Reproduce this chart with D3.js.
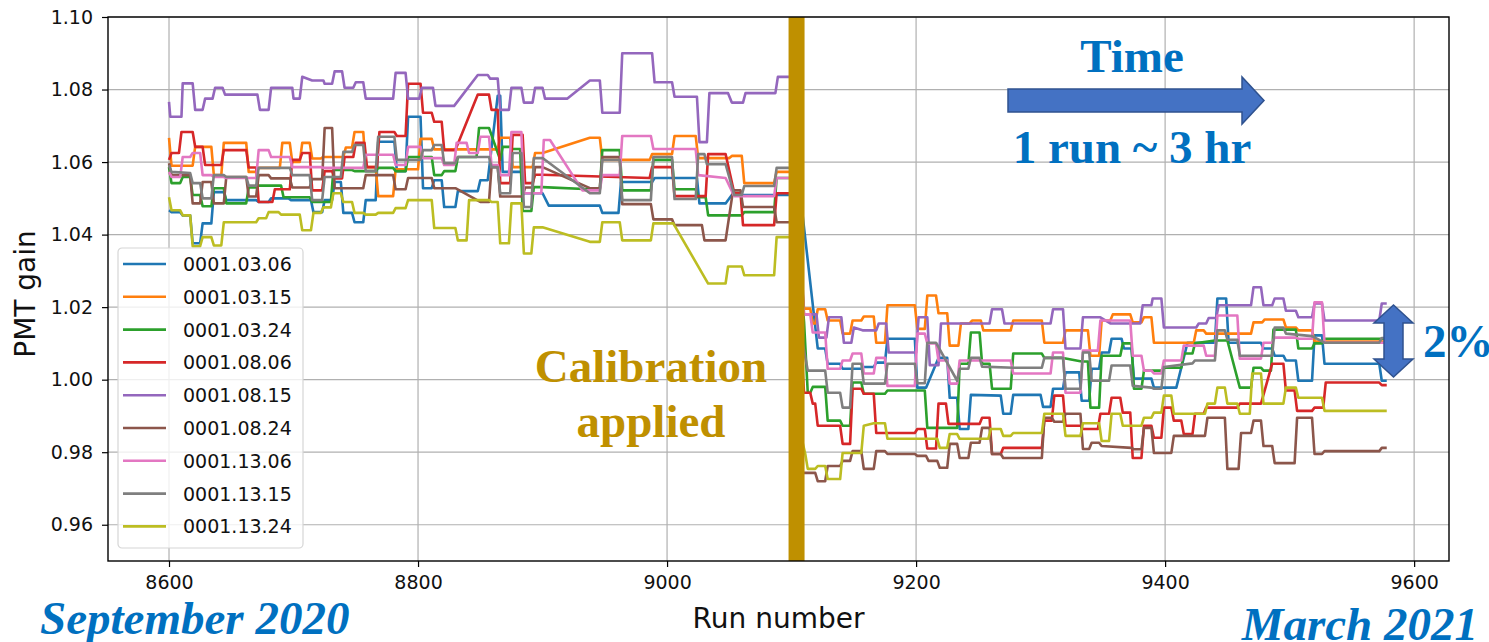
<!DOCTYPE html>
<html>
<head>
<meta charset="utf-8">
<script src="https://cdn.jsdelivr.net/npm/d3@7"></script>
<style>
    html, body { margin: 0; padding: 0; background: #ffffff; }
    svg { display: block; }
</style>
</head>
<body>
<div id="chart"></div>
<script>
// ---- data: [run number, PMT gain] samples ----
var runTicks = [8600, 8800, 9000, 9200, 9400, 9600];
var gainTicks = [0.96, 0.98, 1.00, 1.02, 1.04, 1.06, 1.08, 1.10];
var pmtNames = ['0001.03.06', '0001.03.15', '0001.03.24', '0001.08.06', '0001.08.15',
    '0001.08.24', '0001.13.06', '0001.13.15', '0001.13.24'];
var calibrationRun = 9104;

var pmt0306 = [[8600,1.0467],[8602,1.0462],[8609,1.0462],[8611,1.0453],[8617,1.0453],[8619,1.0376],[8625,1.0376],[8627,1.0431],[8634,1.0431],[8636,1.0517],[8644,1.0517],[8646,1.0495],[8670,1.0495],[8672,1.049],[8680,1.049],[8682,1.05],[8696,1.05],[8698,1.0495],[8714,1.0495],[8716,1.0462],[8723,1.0462],[8725,1.0495],[8731,1.0495],[8733,1.0545],[8738,1.0545],[8740,1.046],[8747,1.046],[8749,1.0434],[8756,1.0434],[8758,1.0495],[8766,1.0495],[8768,1.0656],[8781,1.0656],[8783,1.0575],[8790,1.0575],[8792,1.0725],[8802,1.0725],[8804,1.0528],[8811,1.0528],[8813,1.055],[8819,1.055],[8821,1.0476],[8830,1.0476],[8832,1.052],[8848,1.052],[8850,1.055],[8856,1.055],[8864,1.0783],[8866,1.0783],[8868,1.0573],[8883,1.0573],[8885,1.0514],[8900,1.0514],[8905,1.048],[8946,1.048],[8948,1.046],[8961,1.046],[8963,1.0545],[8988,1.0545],[8990,1.0556],[9024,1.0556],[9026,1.0486],[9047,1.0486],[9052,1.0509],[9100,1.0509],
    [9108,1.048],[9121,1.0086],[9127,1.0086],[9129,1.0044],[9139,1.0044],[9141,1.003],[9156,1.003],[9158,1.0035],[9166,1.0035],[9168,1.0047],[9175,1.0047],[9177,1.0113],[9199,1.0113],[9201,0.9978],[9208,0.9978],[9218,1.006],[9225,1.006],[9227,0.995],[9233,0.995],[9235,0.9864],[9242,0.9864],[9244,0.9958],[9268,0.9956],[9270,0.9906],[9276,0.9906],[9278,0.9958],[9300,0.9958],[9302,0.9925],[9308,0.9925],[9310,0.9975],[9318,0.9975],[9320,1.002],[9331,1.002],[9333,0.9942],[9339,0.9942],[9341,1.003],[9347,1.003],[9349,1.0075],[9355,1.0075],[9357,1.0113],[9365,1.0113],[9367,1.0086],[9373,1.0086],[9375,1.0003],[9389,1.0003],[9391,0.9978],[9409,0.9978],[9418,1.0102],[9440,1.0102],[9442,1.0224],[9449,1.0224],[9451,1.0102],[9477,1.0102],[9479,1.0086],[9486,1.0086],[9488,1.0066],[9495,1.0066],[9497,1.0053],[9505,1.0053],[9507,0.9997],[9518,0.9997],[9520,1.0122],[9526,1.0122],[9528,1.0044],[9572,1.0044],[9574,0.9997],[9578,0.9997]];

var pmt0315 = [[8600,1.0667],[8602,1.059],[8619,1.059],[8621,1.0642],[8634,1.0642],[8636,1.0564],[8642,1.0564],[8644,1.0653],[8662,1.0653],[8664,1.0573],[8670,1.0573],[8672,1.0584],[8689,1.0584],[8691,1.0653],[8697,1.0653],[8699,1.06],[8705,1.06],[8707,1.0653],[8713,1.0653],[8715,1.061],[8722,1.061],[8724,1.0614],[8740,1.0614],[8742,1.064],[8747,1.064],[8749,1.0683],[8756,1.0683],[8758,1.0586],[8766,1.0586],[8768,1.0506],[8780,1.0506],[8782,1.058],[8800,1.058],[8802,1.0664],[8811,1.0664],[8813,1.0635],[8864,1.0635],[8866,1.0667],[8874,1.0667],[8876,1.0586],[8892,1.0586],[8894,1.0625],[8900,1.0625],[8938,1.0667],[8946,1.0667],[8948,1.0606],[8986,1.0606],[8988,1.0622],[9004,1.0622],[9006,1.0672],[9023,1.0672],[9025,1.0611],[9050,1.0611],[9052,1.0617],[9060,1.0617],[9062,1.0542],[9086,1.0542],[9088,1.0573],[9100,1.0573],
    [9110,1.0196],[9115,1.0196],[9117,1.0155],[9119,1.0155],[9121,1.0194],[9127,1.0194],[9129,1.0163],[9139,1.0163],[9141,1.0127],[9147,1.0127],[9149,1.0163],[9156,1.0163],[9158,1.0174],[9166,1.0174],[9168,1.0102],[9175,1.0102],[9177,1.0205],[9199,1.0205],[9201,1.014],[9207,1.014],[9209,1.0232],[9216,1.0232],[9218,1.0183],[9225,1.0183],[9227,1.0094],[9234,1.0094],[9236,1.0155],[9243,1.0155],[9245,1.0163],[9252,1.0163],[9254,1.0136],[9276,1.0136],[9278,1.0163],[9301,1.0163],[9303,1.0102],[9318,1.0102],[9320,1.0136],[9338,1.0136],[9340,1.0066],[9347,1.0066],[9349,1.0163],[9356,1.0163],[9358,1.018],[9372,1.018],[9374,1.0158],[9381,1.0158],[9383,1.0172],[9389,1.0172],[9391,1.0102],[9423,1.0102],[9425,1.0136],[9431,1.0136],[9433,1.0127],[9469,1.0127],[9471,1.0158],[9478,1.0158],[9480,1.0166],[9495,1.0166],[9497,1.0144],[9505,1.0144],[9507,1.0136],[9518,1.0136],[9520,1.0105],[9578,1.0105]];

var pmt0324 = [[8600,1.0586],[8602,1.0542],[8609,1.0542],[8611,1.0559],[8617,1.0559],[8619,1.0509],[8625,1.0509],[8627,1.0478],[8634,1.0478],[8636,1.0528],[8644,1.0528],[8646,1.0486],[8662,1.0486],[8664,1.053],[8670,1.053],[8672,1.0535],[8690,1.0535],[8692,1.0503],[8713,1.0503],[8715,1.049],[8730,1.049],[8732,1.0578],[8747,1.0578],[8749,1.0575],[8766,1.0575],[8768,1.0584],[8780,1.0584],[8782,1.0575],[8790,1.0575],[8792,1.0614],[8811,1.0614],[8813,1.0564],[8819,1.0564],[8821,1.0575],[8830,1.0575],[8832,1.0614],[8847,1.0614],[8849,1.0694],[8857,1.0694],[8866,1.0606],[8868,1.0642],[8874,1.0642],[8876,1.0636],[8882,1.0636],[8884,1.0465],[8891,1.0465],[8893,1.0531],[8900,1.0531],[8938,1.0525],[8946,1.0525],[8948,1.0633],[8962,1.0633],[8964,1.0522],[8987,1.0522],[8989,1.0606],[9004,1.0606],[9006,1.0525],[9023,1.0525],[9025,1.0503],[9031,1.0503],[9033,1.0453],[9060,1.0453],[9062,1.0462],[9086,1.0462],[9088,1.0556],[9100,1.0556],
    [9110,1.016],[9113,0.9964],[9115,0.9964],[9117,0.998],[9127,0.998],[9129,0.9887],[9139,0.9887],[9141,0.9873],[9147,0.9873],[9149,0.9992],[9156,0.9992],[9158,0.9961],[9175,0.9961],[9177,0.997],[9207,0.997],[9209,0.9867],[9233,0.9867],[9235,1.0044],[9242,1.0044],[9244,1.013],[9251,1.013],[9253,1.0044],[9259,1.0044],[9261,0.9975],[9276,0.9975],[9278,1.0072],[9301,1.0072],[9303,1.006],[9318,1.006],[9333,1.005],[9338,1.005],[9340,0.9923],[9347,0.9923],[9349,1.0066],[9364,1.0066],[9366,1.01],[9373,1.01],[9375,0.9975],[9381,0.9975],[9383,1.0025],[9397,1.0025],[9399,1.0033],[9413,1.0033],[9415,1.0072],[9422,1.0072],[9424,1.01],[9440,1.0108],[9450,1.0108],[9460,0.9978],[9469,0.9978],[9471,1.0033],[9477,1.0033],[9479,1.0025],[9485,1.0025],[9487,1.0138],[9505,1.0138],[9507,1.0086],[9518,1.0086],[9520,1.01],[9526,1.01],[9528,1.0113],[9578,1.0113]];

var pmt0806 = [[8600,1.0606],[8602,1.0625],[8608,1.0625],[8610,1.0683],[8619,1.0683],[8621,1.0642],[8627,1.0642],[8629,1.0592],[8642,1.0592],[8644,1.0633],[8662,1.0633],[8664,1.0585],[8670,1.0585],[8672,1.049],[8683,1.049],[8685,1.0525],[8697,1.0525],[8699,1.0606],[8705,1.0606],[8707,1.0625],[8713,1.0625],[8715,1.0522],[8723,1.0522],[8725,1.0575],[8731,1.0575],[8733,1.0555],[8739,1.0555],[8741,1.0614],[8748,1.0614],[8750,1.0653],[8757,1.0653],[8759,1.0586],[8767,1.0586],[8769,1.0683],[8781,1.0683],[8783,1.0672],[8790,1.0672],[8792,1.0816],[8802,1.0816],[8804,1.0736],[8811,1.0736],[8813,1.0711],[8819,1.0711],[8821,1.0633],[8830,1.0633],[8848,1.0786],[8857,1.0786],[8859,1.0744],[8864,1.0744],[8866,1.0542],[8874,1.0542],[8876,1.0675],[8884,1.0675],[8886,1.0542],[8892,1.0542],[8894,1.0565],[8900,1.0565],[8946,1.056],[8986,1.0556],[8988,1.0586],[9004,1.0586],[9006,1.0506],[9031,1.0506],[9033,1.0622],[9047,1.0622],[9054,1.0514],[9059,1.0514],[9061,1.0426],[9086,1.0426],[9088,1.0514],[9100,1.0514],
    [9110,0.9964],[9115,0.9964],[9117,0.9934],[9119,0.9934],[9121,0.9873],[9139,0.9873],[9141,0.9823],[9147,0.9823],[9149,0.9975],[9156,0.9975],[9158,0.9961],[9166,0.9961],[9168,0.9853],[9199,0.9853],[9201,0.9864],[9207,0.9864],[9209,0.981],[9216,0.981],[9218,0.9934],[9224,0.9934],[9226,0.9878],[9251,0.9878],[9253,0.9895],[9259,0.9895],[9261,0.9795],[9268,0.9795],[9270,0.9812],[9301,0.9812],[9303,0.9887],[9309,0.9887],[9311,0.9956],[9318,0.9956],[9320,0.9873],[9332,0.9873],[9334,0.9864],[9346,0.9864],[9348,0.9906],[9355,0.9906],[9357,0.995],[9364,0.995],[9366,0.9909],[9372,0.9909],[9374,0.9784],[9381,0.9784],[9383,0.9873],[9389,0.9873],[9391,0.984],[9397,0.984],[9399,0.9923],[9405,0.9923],[9407,0.9887],[9413,0.9887],[9415,0.985],[9422,0.985],[9424,0.9906],[9431,0.9906],[9433,0.9923],[9458,0.9923],[9460,0.9934],[9477,0.9934],[9486,1.0044],[9495,1.0044],[9497,0.997],[9504,0.997],[9506,0.9914],[9518,0.9914],[9520,0.9923],[9527,0.9923],[9529,0.9992],[9572,0.9992],[9574,0.9985],[9578,0.9985]];

var pmt0815 = [[8600,1.0766],[8601,1.0725],[8610,1.0725],[8611,1.0817],[8619,1.0817],[8621,1.0744],[8627,1.0744],[8629,1.0775],[8635,1.0775],[8637,1.0805],[8643,1.0805],[8645,1.0786],[8671,1.0786],[8673,1.0744],[8680,1.0744],[8682,1.0805],[8699,1.0805],[8700,1.0775],[8705,1.0775],[8707,1.0835],[8715,1.0825],[8724,1.0825],[8725,1.0816],[8731,1.0816],[8733,1.085],[8739,1.085],[8741,1.0805],[8748,1.0805],[8750,1.082],[8756,1.082],[8758,1.0775],[8780,1.0775],[8782,1.0846],[8790,1.0846],[8792,1.0775],[8801,1.0775],[8803,1.0805],[8812,1.0805],[8814,1.0755],[8829,1.0755],[8848,1.084],[8856,1.084],[8858,1.083],[8864,1.083],[8866,1.0744],[8873,1.0744],[8875,1.0805],[8883,1.0805],[8885,1.0764],[8892,1.0764],[8894,1.0805],[8900,1.0805],[8902,1.0775],[8920,1.0775],[8938,1.0825],[8946,1.0825],[8948,1.0736],[8962,1.0736],[8964,1.090],[8988,1.090],[8990,1.082],[9004,1.082],[9006,1.078],[9024,1.078],[9026,1.0655],[9032,1.0655],[9034,1.079],[9049,1.079],[9052,1.0764],[9061,1.0764],[9063,1.079],[9087,1.079],[9089,1.0835],[9100,1.0835],
    [9110,1.018],[9120,1.018],[9122,1.0116],[9128,1.0116],[9130,1.0172],[9140,1.0172],[9142,1.0102],[9148,1.0102],[9150,1.0144],[9157,1.0136],[9168,1.0136],[9170,1.0155],[9176,1.0155],[9178,1.0075],[9200,1.0075],[9202,1.0172],[9209,1.0172],[9211,1.004],[9218,1.004],[9220,1.0155],[9259,1.0155],[9261,1.0194],[9269,1.0194],[9271,1.0155],[9308,1.0155],[9310,1.0194],[9318,1.0194],[9320,1.0086],[9332,1.0086],[9334,1.0172],[9348,1.0172],[9356,1.0155],[9380,1.0155],[9382,1.0205],[9389,1.0205],[9390,1.0224],[9397,1.0224],[9399,1.0144],[9425,1.0144],[9427,1.0155],[9433,1.0155],[9435,1.017],[9441,1.017],[9443,1.0205],[9469,1.0205],[9471,1.0255],[9477,1.0255],[9479,1.0205],[9486,1.0205],[9488,1.0224],[9495,1.0224],[9497,1.019],[9505,1.019],[9507,1.0172],[9518,1.0172],[9520,1.021],[9526,1.021],[9528,1.0163],[9572,1.0163],[9574,1.021],[9578,1.021]];

var pmt0824 = [[8600,1.0597],[8602,1.0564],[8617,1.0564],[8619,1.0486],[8625,1.0486],[8627,1.0545],[8634,1.0545],[8636,1.0486],[8644,1.0486],[8646,1.0559],[8662,1.0559],[8664,1.0505],[8670,1.0505],[8672,1.0564],[8680,1.0564],[8682,1.0555],[8697,1.0555],[8699,1.053],[8713,1.053],[8715,1.0553],[8723,1.0553],[8725,1.0694],[8731,1.0694],[8733,1.0528],[8756,1.0528],[8758,1.0564],[8780,1.0564],[8782,1.0525],[8790,1.0525],[8792,1.0556],[8811,1.0556],[8813,1.0528],[8830,1.0528],[8850,1.049],[8857,1.049],[8859,1.0586],[8864,1.0586],[8866,1.0505],[8884,1.0505],[8886,1.053],[8892,1.053],[8894,1.0586],[8900,1.0586],[8938,1.0528],[8946,1.0528],[8948,1.0614],[8962,1.0614],[8964,1.0484],[8987,1.0484],[8989,1.0442],[9004,1.0442],[9006,1.0426],[9028,1.0426],[9030,1.0384],[9047,1.0384],[9053,1.0522],[9059,1.0522],[9061,1.0476],[9086,1.0476],[9088,1.0434],[9100,1.0434],
    [9108,0.9743],[9119,0.9743],[9121,0.972],[9127,0.972],[9129,0.9762],[9139,0.9762],[9141,0.9776],[9147,0.9776],[9149,0.9803],[9156,0.9803],[9158,0.9754],[9166,0.9754],[9168,0.9803],[9175,0.9803],[9177,0.9795],[9199,0.9795],[9201,0.979],[9208,0.979],[9210,0.9776],[9217,0.9776],[9219,0.9757],[9225,0.9757],[9227,0.9823],[9233,0.9823],[9235,0.9784],[9242,0.9784],[9244,0.9826],[9251,0.9826],[9253,0.9867],[9259,0.9867],[9261,0.9795],[9268,0.9795],[9270,0.9784],[9301,0.9784],[9303,0.9895],[9309,0.9895],[9311,0.9884],[9318,0.9884],[9320,0.9906],[9332,0.9906],[9334,0.9809],[9339,0.9809],[9341,0.9826],[9347,0.9826],[9349,0.9817],[9373,0.9812],[9375,0.9808],[9381,0.9808],[9383,0.9867],[9389,0.9867],[9391,0.9798],[9405,0.9798],[9407,0.9845],[9432,0.9845],[9434,0.9895],[9448,0.9895],[9450,0.9754],[9459,0.9754],[9461,0.9853],[9469,0.9853],[9471,0.9887],[9477,0.9887],[9479,0.9817],[9486,0.9817],[9488,0.977],[9504,0.977],[9506,0.9895],[9518,0.9895],[9520,0.9795],[9526,0.9795],[9528,0.9803],[9572,0.9803],[9574,0.9812],[9578,0.9812]];

var pmt1306 = [[8600,1.0573],[8602,1.0559],[8609,1.0559],[8611,1.0614],[8617,1.0614],[8619,1.0625],[8625,1.0625],[8627,1.0564],[8634,1.0564],[8636,1.0559],[8644,1.0559],[8646,1.0556],[8670,1.0556],[8672,1.0633],[8680,1.0633],[8682,1.0614],[8697,1.0614],[8699,1.0586],[8722,1.0586],[8724,1.0584],[8756,1.0584],[8758,1.062],[8780,1.062],[8782,1.0592],[8790,1.0592],[8792,1.0642],[8802,1.0642],[8804,1.0611],[8819,1.0611],[8821,1.0592],[8829,1.0592],[8831,1.0653],[8839,1.0653],[8841,1.0625],[8848,1.0625],[8850,1.067],[8857,1.067],[8859,1.0592],[8864,1.0592],[8866,1.0564],[8873,1.0564],[8875,1.0683],[8883,1.0683],[8885,1.0514],[8899,1.0514],[8901,1.0661],[8906,1.0661],[8932,1.0522],[8946,1.0522],[8948,1.0564],[8962,1.0564],[8964,1.0672],[8987,1.0672],[8989,1.0636],[9023,1.0636],[9025,1.0564],[9047,1.0556],[9054,1.0506],[9086,1.0506],[9088,1.0556],[9100,1.0556],
    [9110,1.018],[9115,1.018],[9117,1.013],[9127,1.013],[9129,1.003],[9139,1.003],[9141,1.0053],[9147,1.0053],[9149,1.0072],[9156,1.0072],[9158,1.0017],[9166,1.0017],[9168,1.006],[9175,1.006],[9177,0.9983],[9199,0.9983],[9201,1.0127],[9207,1.0127],[9209,1.01],[9216,1.01],[9218,1.0053],[9225,1.0053],[9227,0.9989],[9233,0.9989],[9235,1.0053],[9276,1.0053],[9278,1.0017],[9308,1.0017],[9310,1.0075],[9318,1.0075],[9320,0.9964],[9332,0.9964],[9334,1.008],[9346,1.008],[9348,1.0163],[9372,1.0163],[9374,1.0066],[9381,1.0066],[9383,1.0025],[9389,1.0025],[9391,1.0017],[9397,1.0017],[9399,1.0053],[9413,1.0053],[9415,1.0094],[9431,1.0094],[9433,1.0066],[9440,1.0066],[9442,1.0177],[9458,1.0177],[9460,1.0058],[9477,1.0058],[9479,1.0102],[9486,1.0102],[9488,1.0116],[9505,1.0116],[9507,1.0113],[9518,1.0113],[9520,1.0213],[9526,1.0213],[9528,1.0102],[9578,1.0102]];

var pmt1315 = [[8600,1.0592],[8602,1.0573],[8617,1.057],[8619,1.0542],[8625,1.0542],[8627,1.05],[8634,1.05],[8636,1.0564],[8644,1.0564],[8646,1.0559],[8662,1.0559],[8664,1.0535],[8670,1.0535],[8672,1.0584],[8697,1.0584],[8699,1.0564],[8713,1.0564],[8715,1.0495],[8723,1.0495],[8725,1.0559],[8738,1.0559],[8740,1.0628],[8747,1.0628],[8749,1.0647],[8756,1.0647],[8758,1.0575],[8766,1.0575],[8768,1.067],[8781,1.067],[8783,1.0606],[8802,1.0606],[8804,1.0633],[8811,1.0633],[8813,1.0647],[8819,1.0647],[8821,1.0597],[8830,1.0597],[8832,1.0614],[8857,1.0614],[8859,1.0586],[8864,1.0586],[8866,1.0514],[8874,1.0514],[8876,1.0625],[8883,1.0625],[8885,1.0476],[8891,1.0476],[8893,1.0611],[8900,1.0611],[8938,1.0514],[8946,1.0514],[8948,1.0606],[8962,1.0606],[8964,1.0495],[8987,1.0495],[8989,1.0614],[9004,1.0614],[9006,1.0498],[9023,1.0498],[9025,1.0622],[9030,1.0622],[9032,1.0594],[9047,1.0594],[9054,1.0509],[9060,1.0509],[9062,1.0534],[9086,1.0534],[9088,1.0584],[9100,1.0584],
    [9109,1.01],[9113,1.0025],[9127,1.0025],[9129,0.9964],[9139,0.9964],[9141,0.9923],[9147,0.9923],[9149,1.0044],[9156,1.0044],[9158,0.9989],[9175,0.9989],[9177,1.0044],[9199,1.0044],[9201,0.999],[9207,0.999],[9209,1.0102],[9216,1.0102],[9233,0.9997],[9235,1.003],[9242,1.003],[9244,1.006],[9251,1.006],[9253,1.0036],[9278,1.0033],[9301,1.0033],[9303,1.006],[9318,1.006],[9320,0.9975],[9332,0.9975],[9334,1.0075],[9339,1.0075],[9341,0.9997],[9355,0.9997],[9357,1.0039],[9372,1.0039],[9374,0.9983],[9389,0.9978],[9391,0.9975],[9397,0.9975],[9399,1.0035],[9422,1.0045],[9424,1.0053],[9440,1.0053],[9442,1.0136],[9448,1.0136],[9450,1.011],[9458,1.011],[9460,1.0066],[9486,1.0066],[9488,1.0144],[9495,1.0144],[9497,1.0127],[9518,1.012],[9528,1.0102],[9572,1.0102],[9574,1.0115],[9578,1.0115]];

var pmt1324 = [[8600,1.0503],[8602,1.0467],[8609,1.0467],[8611,1.0453],[8617,1.0453],[8619,1.0368],[8625,1.0368],[8627,1.0393],[8634,1.0393],[8636,1.037],[8642,1.037],[8644,1.0434],[8670,1.0434],[8672,1.0445],[8678,1.0445],[8680,1.0462],[8688,1.0462],[8690,1.0455],[8705,1.0455],[8707,1.0412],[8714,1.0412],[8716,1.046],[8722,1.046],[8724,1.0475],[8730,1.0475],[8732,1.0514],[8738,1.0514],[8740,1.049],[8747,1.049],[8749,1.046],[8756,1.046],[8758,1.0455],[8766,1.0455],[8768,1.046],[8780,1.046],[8782,1.0473],[8790,1.0473],[8792,1.0495],[8811,1.0495],[8813,1.0418],[8830,1.0418],[8832,1.0384],[8839,1.0384],[8841,1.0495],[8857,1.0495],[8859,1.049],[8864,1.049],[8866,1.0376],[8873,1.0376],[8875,1.0486],[8883,1.0486],[8885,1.0348],[8891,1.0348],[8893,1.042],[8900,1.042],[8938,1.038],[8946,1.038],[8948,1.0434],[8962,1.0434],[8964,1.0384],[8987,1.0384],[8989,1.0431],[9005,1.0431],[9033,1.0265],[9047,1.0265],[9049,1.0312],[9060,1.0312],[9062,1.0288],[9086,1.0288],[9088,1.0393],[9100,1.0393],
    [9108,0.984],[9111,0.9795],[9113,0.9754],[9119,0.9754],[9121,0.9762],[9127,0.9762],[9129,0.9726],[9139,0.9726],[9141,0.9798],[9156,0.9798],[9158,0.9873],[9166,0.988],[9175,0.988],[9177,0.9837],[9217,0.9837],[9219,0.9812],[9225,0.9812],[9227,0.985],[9233,0.985],[9235,0.9837],[9258,0.9837],[9260,0.9864],[9268,0.9864],[9270,0.9845],[9276,0.9845],[9278,0.9853],[9301,0.9853],[9303,0.9906],[9318,0.9906],[9320,0.9845],[9332,0.9845],[9334,0.988],[9347,0.988],[9349,0.9831],[9355,0.9831],[9357,0.9906],[9364,0.9906],[9366,0.9873],[9381,0.9873],[9383,0.9895],[9389,0.9895],[9391,0.9909],[9397,0.9909],[9399,0.9956],[9405,0.9956],[9407,0.9906],[9432,0.9906],[9434,0.9934],[9440,0.9934],[9442,0.9978],[9448,0.9978],[9450,0.9934],[9458,0.9934],[9460,0.9906],[9468,0.9906],[9470,1.0017],[9477,1.0017],[9479,0.9934],[9495,0.9934],[9497,0.9978],[9505,0.9978],[9507,0.995],[9526,0.995],[9528,0.9914],[9578,0.9914]];

(function () {
    'use strict';

    var width = 1489, height = 642;
    var plot = { left: 108, top: 17, right: 1449, bottom: 561 };

    // matplotlib tab10
    var colors = ['#1f77b4', '#ff7f0e', '#2ca02c', '#d62728', '#9467bd',
        '#8c564b', '#e377c2', '#7f7f7f', '#bcbd22'];
    var series = [pmt0306, pmt0315, pmt0324, pmt0806, pmt0815, pmt0824, pmt1306, pmt1315, pmt1324];

    var sans = 'DejaVu Sans, sans-serif';
    var serif = '"Liberation Serif", "Times New Roman", serif';
    var blue = '#0070c0';
    var gold = '#bf9000';

    var x = d3.scaleLinear().domain([8551, 9628]).range([plot.left, plot.right]);
    var y = d3.scaleLinear().domain([0.95, 1.10]).range([plot.bottom, plot.top]);

    var svg = d3.select('#chart').append('svg')
        .attr('width', width)
        .attr('height', height)
        .attr('viewBox', '0 0 ' + width + ' ' + height);

    svg.append('rect').attr('width', width).attr('height', height).attr('fill', '#ffffff');

    svg.append('defs').append('clipPath').attr('id', 'plot-clip')
        .append('rect')
        .attr('x', plot.left).attr('y', plot.top)
        .attr('width', plot.right - plot.left)
        .attr('height', plot.bottom - plot.top);

    // grid
    var grid = svg.append('g').attr('class', 'grid')
        .attr('stroke', '#b0b0b0').attr('stroke-width', 1.2);
    grid.selectAll('line.gx').data(runTicks).enter().append('line')
        .attr('class', 'gx')
        .attr('x1', function (d) { return x(d); }).attr('x2', function (d) { return x(d); })
        .attr('y1', plot.top).attr('y2', plot.bottom);
    grid.selectAll('line.gy').data(gainTicks).enter().append('line')
        .attr('class', 'gy')
        .attr('y1', function (d) { return y(d); }).attr('y2', function (d) { return y(d); })
        .attr('x1', plot.left).attr('x2', plot.right);

    // series
    var line = d3.line()
        .x(function (d) { return x(d[0]); })
        .y(function (d) { return y(d[1]); });

    svg.append('g').attr('clip-path', 'url(#plot-clip)')
        .selectAll('path').data(series).enter().append('path')
        .attr('d', line)
        .attr('fill', 'none')
        .attr('stroke', function (d, i) { return colors[i]; })
        .attr('stroke-width', 2.6)
        .attr('stroke-linejoin', 'round');

    // calibration marker
    svg.append('rect')
        .attr('x', x(calibrationRun) - 8)
        .attr('y', plot.top)
        .attr('width', 16)
        .attr('height', plot.bottom - plot.top)
        .attr('fill', gold);

    // axes
    var xAxis = svg.append('g')
        .attr('transform', 'translate(0,' + plot.bottom + ')')
        .call(d3.axisBottom(x).tickValues(runTicks).tickSize(6).tickPadding(9).tickFormat(d3.format('d')));
    var yAxis = svg.append('g')
        .attr('transform', 'translate(' + plot.left + ',0)')
        .call(d3.axisLeft(y).tickValues(gainTicks).tickSize(6).tickPadding(9).tickFormat(d3.format('.2f')));

    [xAxis, yAxis].forEach(function (a) {
        a.select('.domain').remove();
        a.selectAll('.tick line').attr('stroke', '#000').attr('stroke-width', 1.2);
        a.selectAll('.tick text')
            .attr('fill', '#111')
            .style('font-family', sans)
            .style('font-size', '19px');
    });

    svg.append('rect')
        .attr('x', plot.left).attr('y', plot.top)
        .attr('width', plot.right - plot.left)
        .attr('height', plot.bottom - plot.top)
        .attr('fill', 'none')
        .attr('stroke', '#000')
        .attr('stroke-width', 1.4);

    svg.append('text')
        .attr('x', (plot.left + plot.right) / 2)
        .attr('y', 628)
        .attr('text-anchor', 'middle')
        .style('font-family', sans).style('font-size', '28px')
        .attr('fill', '#111')
        .text('Run number');

    svg.append('text')
        .attr('transform', 'translate(35,294) rotate(-90)')
        .attr('text-anchor', 'middle')
        .style('font-family', sans).style('font-size', '28px')
        .attr('fill', '#111')
        .text('PMT gain');

    // legend
    var legend = svg.append('g').attr('transform', 'translate(118,248)');
    legend.append('rect')
        .attr('width', 185).attr('height', 300)
        .attr('rx', 4).attr('ry', 4)
        .attr('fill', '#ffffff').attr('fill-opacity', 0.8)
        .attr('stroke', '#d6d6d6').attr('stroke-width', 1.2);
    var rows = legend.selectAll('g.row').data(pmtNames).enter().append('g')
        .attr('class', 'row')
        .attr('transform', function (d, i) { return 'translate(0,' + (16 + i * 32.8) + ')'; });
    rows.append('line')
        .attr('x1', 5).attr('x2', 48)
        .attr('stroke', function (d, i) { return colors[i]; })
        .attr('stroke-width', 2.6);
    rows.append('text')
        .attr('x', 65).attr('y', 7)
        .style('font-family', sans).style('font-size', '19px')
        .attr('fill', '#111')
        .text(function (d) { return d; });

    // annotations
    svg.append('path')
        .attr('d', 'M1008,89 L1242,89 L1242,77 L1264,100.5 L1242,124 L1242,112 L1008,112 Z')
        .attr('fill', '#4472c4').attr('stroke', '#2f528f').attr('stroke-width', 1.5);

    svg.append('path')
        .attr('d', 'M1393.5,305 L1413,323 L1403,323 L1403,359 L1413,359 L1393.5,377 L1374,359 L1384,359 L1384,323 L1374,323 Z')
        .attr('fill', '#4472c4').attr('stroke', '#2f528f').attr('stroke-width', 1.5);

    function note(txt, px, py, anchor, color, italic) {
        svg.append('text')
            .attr('x', px).attr('y', py)
            .attr('text-anchor', anchor)
            .style('font-family', serif)
            .style('font-size', '47px')
            .style('font-weight', 'bold')
            .style('font-style', italic ? 'italic' : 'normal')
            .attr('fill', color)
            .text(txt);
    }

    note('Time', 1132, 72, 'middle', blue);
    note('1 run ~ 3 hr', 1132, 163, 'middle', blue);
    note('2%', 1423, 357, 'start', blue);
    note('Calibration', 651, 382, 'middle', gold);
    note('applied', 651, 437, 'middle', gold);
    note('September 2020', 40, 634, 'start', blue, true);
    note('March 2021', 1478, 640, 'end', blue, true);
}());
</script>
</body>
</html>
